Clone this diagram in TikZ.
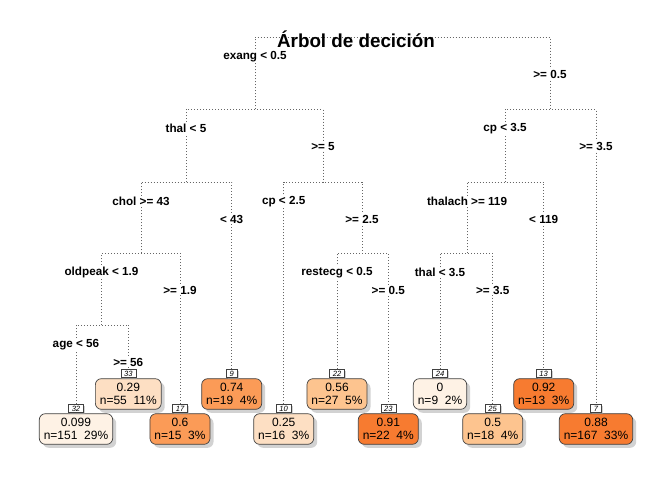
\documentclass[tikz,border=0pt]{standalone}
\usepackage{fontspec}
\setmainfont{Liberation Sans}
\usepackage{tikz}
\usetikzlibrary{positioning}
\usetikzlibrary{shadows}
\definecolor{c0}{HTML}{FEF2E5}
\definecolor{c1}{HTML}{FDDFC3}
\definecolor{c2}{HTML}{FDC48F}
\definecolor{c3}{HTML}{FB9B57}
\definecolor{c4}{HTML}{F77B30}
\tikzset{
  branch/.style={draw=black!60, line width=0.7pt, dash pattern=on 0.9pt off 2.1pt},
  split/.style={fill=white, inner sep=1pt, font=\bfseries\fontsize{11.7}{12}\selectfont},
  leaf/.style={draw=black!75, line width=0.7pt, rounded corners=6pt, align=center,
    inner xsep=4.5pt, inner ysep=2pt, minimum height=30.6pt,
    font=\fontsize{12}{13.5}\selectfont,
    drop shadow={shadow xshift=3.5pt, shadow yshift=-3.5pt, fill=black!35}},
  tag/.style={draw=black!75, line width=0.5pt, fill=white, inner xsep=3.3pt, inner ysep=1pt,
    text height=5.6pt, text depth=0pt, font=\itshape\fontsize{7.6}{7.6}\selectfont,
    drop shadow={shadow xshift=1.5pt, shadow yshift=-1.5pt, fill=black!35}}
}
\begin{document}
\begin{tikzpicture}[x=1pt, y=-1pt]
  \path[use as bounding box] (0,0) rectangle (672,480);
  % split points
  \foreach \id/\x/\y in {1/402.5/37, 2/255/109.3, 3/550/109.3, 4/186/182, 5/323/182,
      6/505/182, 8/141/253.3, 11/362/253.3, 12/467/253.3, 16/101.5/325}
    \coordinate (n\id) at (\x,\y);
  % leaves
  \foreach \id/\x/\y/\col/\val/\cnt/\pc in {32/76/429/c0/0.099/151/29, 33/128.3/394/c1/0.29/55/11,
      17/180/429/c3/0.6/15/3, 9/231.7/394/c3/0.74/19/4, 10/283.7/429/c1/0.25/16/3,
      22/337/394/c2/0.56/27/5, 23/388.3/429/c4/0.91/22/4, 24/440/394/c0/0/9/2,
      25/492.7/429/c2/0.5/18/4, 13/543.7/394/c4/0.92/13/3, 7/596/429/c4/0.88/167/33} {
    \node[leaf, fill=\col] (l\id) at (\x,\y) {\val\\n=\cnt\ \ \pc\%};
    \node[tag, above=1pt of l\id] (t\id) {\id};
  }
  % branches and split labels
  \foreach \p/\l/\r/\lt/\rt in {1/n2/n3/exang < 0.5/>= 0.5, 2/n4/n5/thal < 5/>= 5,
      3/n6/t7/cp < 3.5/>= 3.5, 4/n8/t9/chol >= 43/< 43, 5/t10/n11/cp < 2.5/>= 2.5,
      6/n12/t13/thalach >= 119/< 119, 8/n16/t17/oldpeak < 1.9/>= 1.9,
      11/t22/t23/restecg < 0.5/>= 0.5, 12/t24/t25/thal < 3.5/>= 3.5,
      16/t32/t33/age < 56/>= 56} {
    \draw[branch] (\l) -- (\l |- n\p) -- (\r |- n\p) -- (\r);
    \path (\l |- n\p) ++(0,19.5) node[split] (sl\p) {\lt};
    \path (\r |- n\p) ++(0,37) node[split] (sr\p) {\rt};
  }
  \node[anchor=base, font=\bfseries\fontsize{18.8}{20}\selectfont] (title) at (356,47.3) {Árbol de decición};
\end{tikzpicture}
\end{document}
